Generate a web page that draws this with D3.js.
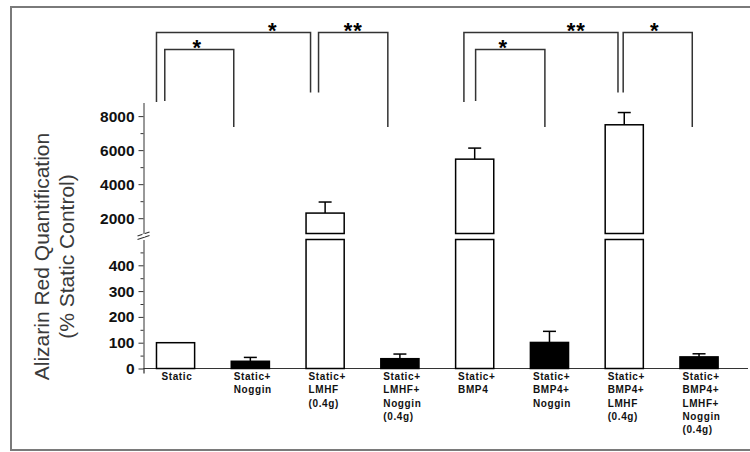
<!DOCTYPE html>
<meta charset="utf-8">
<script src="https://cdn.jsdelivr.net/npm/d3@7"></script>
<style>
  body { margin: 0; background: #fff; }
  text { font-family: "Liberation Sans", Arial, sans-serif; }
</style>
<svg id="graph" width="750" height="452"></svg>
<script>

// data
var groups = [
  ["Static"],
  ["Static+", "Noggin"],
  ["Static+", "LMHF", "(0.4g)"],
  ["Static+", "LMHF+", "Noggin", "(0.4g)"],
  ["Static+", "BMP4"],
  ["Static+", "BMP4+", "Noggin"],
  ["Static+", "BMP4+", "LMHF", "(0.4g)"],
  ["Static+", "BMP4+", "LMHF+", "Noggin", "(0.4g)"]
];
var means = [100, 28, 2300, 38, 5470, 101, 7490, 45];
var sems  = [0, 15, 650, 18, 650, 43, 720, 12];
var upperTicks = [2000, 4000, 6000, 8000];
var lowerTicks = [0, 100, 200, 300, 400];
var sigPairs = [[0, 2], [0, 1], [2, 3], [4, 5], [4, 6], [6, 7]];
var sigLabels = ["*", "*", "**", "*", "**", "*"];

// bracket layout (offsets inside the bands, leg ends, star placement)
var bracketLayout = [
  {level: 0, dxA: 0,    dxB: 4.5,  endA: 102, endB: 92.5, star: 0.755},
  {level: 1, dxA: 8.3,  dxB: 2.5,  endA: 101, endB: 127,  star: 0.47},
  {level: 0, dxA: 12.5, dxB: 7,    endA: 92.5, endB: 127, star: 0.5},
  {level: 1, dxA: 20,   dxB: 14.5, endA: 101, endB: 127,  star: 0.4},
  {level: 0, dxA: 8.3,  dxB: 12.8, endA: 102, endB: 92.5, star: 0.73},
  {level: 0, dxA: 18,   dxB: 12.3, endA: 92.5, endB: 127, star: 0.456}
];

var svg = d3.select("#graph");

// frame
svg.append("rect")
    .attr("x", 11).attr("y", 7)
    .attr("width", 800).attr("height", 443)
    .attr("fill", "none")
    .attr("stroke", "#7a7a7a")
    .attr("stroke-width", 2);

var axisX = 143.5;

var x = d3.scaleBand()
    .domain(d3.range(groups.length))
    .range([axisX, 747])
    .paddingInner(0.49)
    .paddingOuter(0.28)
    .align(0.31);

var yLow = d3.scaleLinear().domain([0, 500]).range([368.5, 239.5]);
var yHigh = d3.scaleLinear().domain([1100, 8800]).range([233.5, 102.5]);
var cut = 500;

// y axes (broken)
var gHigh = svg.append("g").attr("transform", "translate(" + axisX + ",0)");
gHigh.call(d3.axisLeft(yHigh).tickValues(upperTicks).tickFormat(d3.format("d"))
    .tickSize(5).tickSizeOuter(0).tickPadding(4));
gHigh.append("g").call(d3.axisLeft(yHigh)
    .tickValues([3000, 5000, 7000]).tickSize(3).tickSizeOuter(0).tickFormat(""))
  .select(".domain").remove();

var gLow = svg.append("g").attr("transform", "translate(" + axisX + ",0)");
gLow.call(d3.axisLeft(yLow).tickValues(lowerTicks).tickFormat(d3.format("d"))
    .tickSize(5).tickSizeOuter(0).tickPadding(4));
gLow.append("g").call(d3.axisLeft(yLow)
    .tickValues([50, 150, 250, 350, 450]).tickSize(3).tickSizeOuter(0).tickFormat(""))
  .select(".domain").remove();
gLow.append("line")
    .attr("x1", 0.5).attr("x2", 0.5)
    .attr("y1", yLow(0)).attr("y2", yLow(0) + 5)
    .attr("stroke", "#000");

svg.selectAll(".tick text")
    .style("font-size", "15.5px")
    .style("font-weight", "bold")
    .attr("fill", "#111");
svg.selectAll(".domain, .tick line").attr("stroke", "#333");

// break marks
[0, 3.5].forEach(function(o) {
  svg.append("line")
      .attr("x1", axisX - 6).attr("y1", 236 + o)
      .attr("x2", axisX + 6).attr("y2", 232 + o)
      .attr("stroke", "#333").attr("stroke-width", 1.2);
});
svg.append("rect")
    .attr("x", axisX - 1).attr("y", 233.6)
    .attr("width", 2.5).attr("height", 3)
    .attr("fill", "#fff");

// x axis
svg.append("g")
    .attr("transform", "translate(0," + (yLow(0) - 0.5) + ")")
    .call(d3.axisBottom(x).tickSize(0).tickSizeOuter(0).tickFormat(""))
  .select(".domain")
    .attr("stroke", "#333")
    .attr("d", "M" + axisX + ",0.5H748");

// bars
var bw = x.bandwidth();
var bars = svg.append("g").selectAll("g")
    .data(means)
    .enter().append("g");

bars.each(function(m, i) {
  var g = d3.select(this);
  var fill = groups[i].indexOf("Noggin") >= 0 ? "#000" : "#fff";
  var x0 = x(i);
  var topY;
  if (m <= cut) {
    topY = yLow(m);
    g.append("rect")
        .attr("x", x0).attr("y", topY)
        .attr("width", bw).attr("height", yLow(0) - topY)
        .attr("fill", fill).attr("stroke", "#000").attr("stroke-width", 1.5);
  } else {
    g.append("rect")
        .attr("x", x0).attr("y", yLow(cut))
        .attr("width", bw).attr("height", yLow(0) - yLow(cut))
        .attr("fill", fill).attr("stroke", "#000").attr("stroke-width", 1.5);
    topY = yHigh(m);
    g.append("rect")
        .attr("x", x0).attr("y", topY)
        .attr("width", bw).attr("height", yHigh.range()[0] - topY)
        .attr("fill", fill).attr("stroke", "#000").attr("stroke-width", 1.5);
  }
  if (sems[i] > 0) {
    var errY = m <= cut ? yLow(m + sems[i]) : yHigh(m + sems[i]);
    var cx = x0 + bw / 2;
    g.append("line")
        .attr("x1", cx).attr("x2", cx)
        .attr("y1", topY).attr("y2", errY)
        .attr("stroke", "#000").attr("stroke-width", 1.5);
    g.append("line")
        .attr("x1", cx - 6.5).attr("x2", cx + 6.5)
        .attr("y1", errY).attr("y2", errY)
        .attr("stroke", "#000").attr("stroke-width", 1.5);
  }
});

// category labels
var labels = svg.append("g").selectAll("text")
    .data(groups)
    .enter().append("text")
    .attr("x", function(d, i) { return x(i) + (i == 0 ? 5 : 2.5); })
    .attr("y", 380)
    .style("font-size", "10px")
    .style("font-weight", "bold")
    .style("letter-spacing", "0.6px")
    .attr("fill", "#111");

labels.selectAll("tspan")
    .data(function(d, i) { return d.map(function(s) { return {s: s, i: i}; }); })
    .enter().append("tspan")
    .attr("x", function(d) { return x(d.i) + (d.i == 0 ? 5 : 2.5); })
    .attr("dy", function(d, j) { return j == 0 ? 0 : 13.3; })
    .text(function(d) { return d.s; });

// y title
var title = svg.append("text")
    .attr("transform", "translate(0,256.5) rotate(-90)")
    .attr("text-anchor", "middle")
    .style("font-size", "21px")
    .attr("fill", "#3a3a3a");
title.append("tspan").attr("x", 0).attr("y", 49).text("Alizarin Red Quantification");
title.append("tspan").attr("x", 0).attr("y", 74).text("(% Static Control)");

// significance brackets
var levelY = [32.5, 49.5];
sigPairs.forEach(function(p, k) {
  var L = bracketLayout[k];
  var xa = x(p[0]) + L.dxA, xb = x(p[1]) + L.dxB, yt = levelY[L.level];
  svg.append("path")
      .attr("d", "M" + xa + "," + L.endA + "V" + yt + "H" + xb + "V" + L.endB)
      .attr("fill", "none")
      .attr("stroke", "#333")
      .attr("stroke-width", 1.5);
  svg.append("text")
      .attr("x", xa + (xb - xa) * L.star)
      .attr("y", yt + 5)
      .attr("text-anchor", "middle")
      .style("font-size", "22px")
      .style("font-weight", "bold")
      .style("letter-spacing", "1px")
      .text(sigLabels[k]);
});

</script>
